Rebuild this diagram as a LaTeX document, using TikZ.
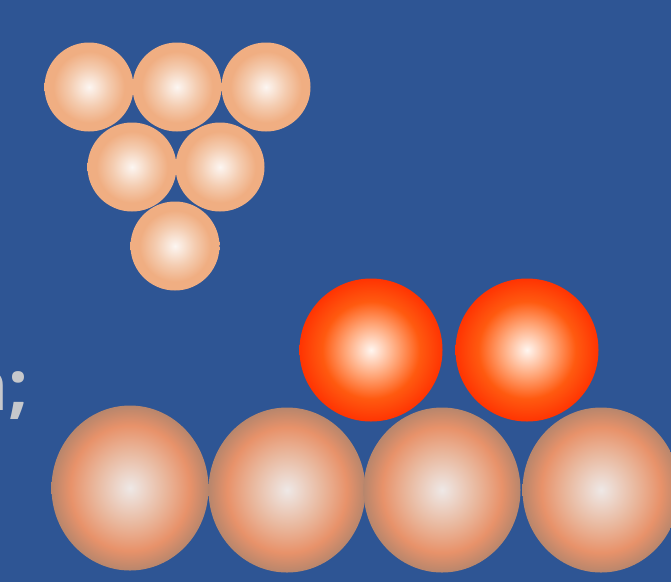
\documentclass[tikz,border=0pt]{standalone}
\usepackage{fontspec}
\setmainfont{Open Sans}
\usetikzlibrary{shapes.geometric}
\definecolor{bg}{HTML}{2E5594}
\definecolor{txt}{HTML}{C6C8CC}
\definecolor{pkc}{HTML}{FCF6F2}
\definecolor{pkm}{HTML}{F4CCB0}
\definecolor{pko}{HTML}{F0AE82}
\definecolor{rdc}{HTML}{FFF6F0}
\definecolor{rdm}{HTML}{FFA678}
\definecolor{rdn}{HTML}{FF5A10}
\definecolor{rdo}{HTML}{FF3402}
\definecolor{btc}{HTML}{EEE8E6}
\definecolor{btm}{HTML}{E9B89E}
\definecolor{btn}{HTML}{E8926A}
\definecolor{bto}{HTML}{B8866C}
\pgfdeclareradialshading{peachball}{\pgfpoint{0bp}{0bp}}{color(0bp)=(pkc); color(11bp)=(pkm); color(20bp)=(pko); color(25bp)=(pko); color(50bp)=(pko)}
\pgfdeclareradialshading{redball}{\pgfpoint{0bp}{0bp}}{color(0bp)=(rdc); color(9bp)=(rdm); color(17bp)=(rdn); color(25bp)=(rdo); color(50bp)=(rdo)}
\pgfdeclareradialshading{botball}{\pgfpoint{0bp}{0bp}}{color(0bp)=(btc); color(11bp)=(btm); color(19bp)=(btn); color(25bp)=(bto); color(50bp)=(bto)}
\tikzset{
  small/.style={circle, inner sep=0pt, minimum size=89pt, shading=peachball},
  redb/.style={circle, inner sep=0pt, minimum size=143pt, shading=redball},
  bigb/.style={ellipse, inner sep=0pt, minimum width=157pt, minimum height=165pt, shading=botball},
  label/.style={font=\bfseries\fontsize{70}{70}\selectfont, text=txt, inner sep=0pt}
}
\begin{document}
\begin{tikzpicture}[x=1pt,y=-1pt]
\useasboundingbox (0,0) rectangle (671,582);
\clip (0,0) rectangle (671,582);
\fill[bg] (0,0) rectangle (671,582);
\node[label, anchor=base east] (t) at (29,410) {n;};
\node[small] (a1) at (89,87) {};
\node[small] (a2) at (177,87) {};
\node[small] (a3) at (266,87) {};
\node[small] (b1) at (132,167) {};
\node[small] (b2) at (220,167) {};
\node[small] (c1) at (175,246) {};
\node[redb] (r1) at (371,350) {};
\node[redb] (r2) at (527,350) {};
\node[bigb] (e1) at (130,488) {};
\node[bigb] (e2) at (287,490) {};
\node[bigb] (e3) at (442,490) {};
\node[bigb] (e4) at (601,490) {};
\end{tikzpicture}
\end{document}
